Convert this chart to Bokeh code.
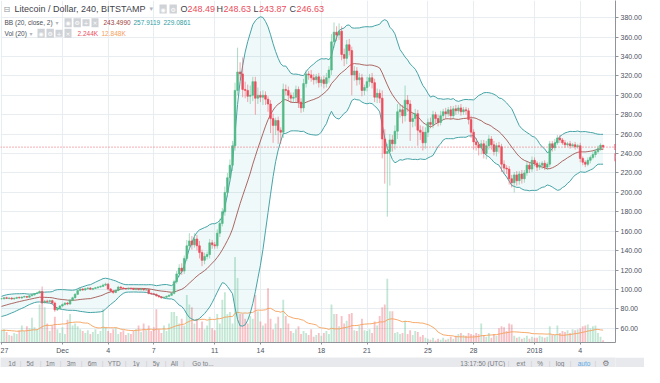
import numpy as np
import pandas as pd
from bokeh.plotting import figure
from bokeh.models import ColumnDataSource, Range1d, FixedTicker, Label, Span, NumeralTickFormatter
from bokeh.layouts import column
from bokeh.embed import file_html
from bokeh.resources import INLINE

# ---------------- data (LTC/USD, Bitstamp, 4h bars; index 0 = 27 Nov 2017 00:00) ----------------
tick_idx = [0, 24, 42, 60, 84, 102, 126, 144, 168, 186, 210, 228]
tick_labels = ["27", "Dec", "4", "7", "11", "14", "18", "21", "25", "28", "2018", "4"]
price_ticks = [60, 80, 100, 120, 140, 160, 180, 200, 220, 240, 260, 280, 300, 320, 340, 360, 380]

# closes of the 20 bars before the visible window (needed for BB(20) / Vol MA(20))
warmup_close = [74.0, 75.0, 76.5, 75.5, 77.0, 78.0, 77.5, 79.0, 80.0, 81.0,
                80.5, 82.0, 83.5, 84.0, 86.0, 87.5, 88.0, 89.0, 90.0, 90.5]
warmup_volume = [12, 15, 10, 14, 11, 13, 16, 12, 9, 14, 13, 11, 15, 12, 14, 10, 13, 16, 12, 14]

close = [
    90.5, 91.5, 90.8, 91.2, 90.2, 91.0, 91.8, 91.3, 92.2, 92.8,
    92.0, 93.5, 94.5, 95.8, 96.5, 98.0, 86.5, 88.0, 87.5, 88.5,
    86.0, 79.0, 80.5, 83.0, 84.5, 86.0, 85.0, 89.0, 91.5, 95.0,
    99.0, 100.5, 99.5, 100.8, 101.5, 100.2, 101.0, 101.8, 102.5, 103.2,
    104.5, 105.5, 100.5, 98.5, 97.0, 99.0, 102.5, 101.5, 101.0, 100.5,
    101.2, 100.8, 100.0, 100.6, 99.8, 100.4, 99.5, 99.8, 96.0, 95.5,
    95.0, 93.5, 92.5, 91.5, 92.0, 93.0, 94.0, 96.0, 108.0, 116.0,
    122.0, 119.0, 132.0, 145.0, 150.0, 146.0, 152.0, 145.0, 138.0, 130.0,
    134.0, 136.0, 148.0, 146.0, 145.0, 158.0, 168.0, 180.0, 200.0, 215.0,
    228.0, 248.0, 305.0, 324.0, 322.0, 306.0, 305.0, 299.0, 300.0, 314.0,
    297.0, 300.0, 298.0, 300.0, 296.0, 291.0, 276.0, 269.0, 274.0, 264.0,
    262.0, 306.0, 305.0, 300.0, 297.0, 298.0, 306.0, 293.0, 287.0, 312.0,
    322.0, 321.0, 318.0, 316.0, 319.0, 313.0, 316.0, 312.0, 318.0, 326.0,
    355.0, 365.0, 362.0, 366.0, 342.0, 338.0, 352.0, 346.0, 321.0, 325.0,
    316.0, 318.0, 305.0, 308.0, 314.0, 318.0, 313.0, 298.0, 302.0, 297.0,
    255.0, 240.0, 242.0, 254.0, 250.0, 263.0, 283.0, 285.0, 279.0, 295.0,
    291.0, 273.0, 276.0, 281.0, 264.0, 262.0, 251.0, 262.0, 272.0, 270.0,
    280.0, 276.0, 272.0, 279.0, 283.0, 281.0, 285.0, 279.0, 286.0, 284.0,
    287.0, 283.0, 285.0, 284.0, 275.0, 262.0, 252.0, 249.0, 246.0, 250.0,
    240.0, 248.0, 255.0, 249.0, 242.0, 248.0, 247.0, 229.0, 225.0, 224.0,
    214.0, 210.0, 218.0, 212.0, 219.0, 214.0, 220.0, 228.0, 224.0, 233.0,
    230.0, 226.0, 228.0, 230.0, 226.0, 229.0, 250.0, 246.0, 251.0, 256.0,
    254.0, 251.0, 249.0, 250.0, 248.0, 249.0, 247.0, 248.0, 235.0, 231.0,
    229.0, 233.0, 236.0, 239.0, 242.0, 245.0, 248.49, 246.63]

upper_wick = [
    0.8, 0.5, 1.0, 0.6, 0.8, 0.5, 0.7, 1.0, 0.6, 0.8,
    0.5, 0.7, 0.9, 0.6, 1.2, 1.0, 5.0, 1.2, 1.5, 1.0,
    1.0, 1.5, 1.0, 0.8, 1.0, 0.8, 1.2, 0.8, 1.0, 1.2,
    1.0, 1.2, 0.8, 1.0, 0.8, 1.0, 0.6, 0.8, 1.0, 0.8,
    1.5, 1.5, 1.2, 1.0, 0.8, 1.0, 1.2, 0.8, 1.0, 0.6,
    0.8, 0.6, 0.8, 0.5, 0.8, 0.6, 0.8, 0.6, 1.0, 0.8,
    0.8, 0.6, 0.8, 0.6, 0.8, 0.6, 0.8, 1.0, 2.0, 3.0,
    4.0, 5.0, 3.0, 6.0, 8.0, 5.0, 6.0, 4.0, 5.0, 3.0,
    4.0, 3.0, 4.0, 3.0, 3.0, 4.0, 5.0, 4.0, 6.0, 5.0,
    6.0, 5.0, 8.0, 25.0, 10.0, 17.0, 8.0, 6.0, 10.0, 5.0,
    5.0, 8.0, 4.0, 5.0, 4.0, 3.0, 4.0, 5.0, 3.0, 4.0,
    3.0, 6.0, 5.0, 4.0, 3.0, 5.0, 4.0, 3.0, 4.0, 5.0,
    4.0, 3.0, 5.0, 4.0, 3.0, 4.0, 3.0, 4.0, 5.0, 4.0,
    8.0, 10.0, 6.0, 8.0, 5.0, 6.0, 5.0, 6.0, 4.0, 5.0,
    4.0, 5.0, 4.0, 3.0, 5.0, 4.0, 5.0, 4.0, 5.0, 4.0,
    8.0, 10.0, 8.0, 6.0, 5.0, 6.0, 8.0, 6.0, 5.0, 15.0,
    5.0, 4.0, 6.0, 5.0, 4.0, 5.0, 6.0, 5.0, 4.0, 5.0,
    4.0, 3.0, 4.0, 5.0, 3.0, 4.0, 3.0, 4.0, 3.0, 4.0,
    3.0, 4.0, 3.0, 3.0, 3.0, 4.0, 3.0, 4.0, 3.0, 4.0,
    4.0, 5.0, 4.0, 3.0, 4.0, 3.0, 4.0, 3.0, 4.0, 3.0,
    3.0, 4.0, 3.0, 4.0, 3.0, 4.0, 3.0, 4.0, 3.0, 4.0,
    3.0, 2.0, 3.0, 2.0, 3.0, 2.0, 3.0, 3.0, 4.0, 3.0,
    3.0, 2.0, 3.0, 2.0, 3.0, 2.0, 3.0, 2.0, 3.0, 2.0,
    2.0, 3.0, 2.0, 3.0, 2.0, 3.0, 2.0, 0.14]

lower_wick = [
    0.6, 0.8, 0.5, 1.0, 0.7, 0.5, 0.8, 0.6, 1.0, 0.7,
    0.8, 0.6, 0.5, 0.8, 0.6, 0.7, 1.5, 1.0, 1.5, 1.0,
    1.2, 2.0, 1.0, 1.0, 0.8, 1.0, 1.2, 0.8, 1.0, 0.8,
    0.8, 1.0, 1.0, 0.8, 1.0, 0.8, 1.0, 0.6, 0.8, 0.6,
    0.8, 1.0, 1.5, 1.2, 1.5, 0.8, 0.8, 1.0, 0.6, 0.8,
    0.6, 0.8, 0.6, 0.8, 0.6, 0.8, 0.6, 0.8, 1.0, 1.0,
    0.8, 1.0, 1.0, 1.0, 0.8, 0.6, 0.8, 0.8, 1.0, 2.0,
    3.0, 4.0, 3.0, 3.0, 4.0, 5.0, 3.0, 5.0, 6.0, 6.0,
    4.0, 3.0, 4.0, 4.0, 3.0, 3.0, 4.0, 3.0, 4.0, 5.0,
    4.0, 6.0, 5.0, 5.0, 6.0, 8.0, 8.0, 6.0, 8.0, 6.0,
    17.0, 6.0, 5.0, 8.0, 6.0, 8.0, 15.0, 18.0, 10.0, 14.0,
    12.0, 6.0, 5.0, 6.0, 5.0, 4.0, 5.0, 6.0, 5.0, 4.0,
    4.0, 5.0, 4.0, 5.0, 4.0, 5.0, 4.0, 5.0, 4.0, 5.0,
    5.0, 6.0, 6.0, 5.0, 6.0, 8.0, 6.0, 5.0, 21.0, 6.0,
    6.0, 5.0, 6.0, 5.0, 4.0, 5.0, 6.0, 5.0, 6.0, 5.0,
    20.0, 31.0, 65.0, 35.0, 8.0, 6.0, 8.0, 6.0, 8.0, 6.0,
    8.0, 20.0, 6.0, 8.0, 16.0, 8.0, 8.0, 6.0, 5.0, 4.0,
    4.0, 5.0, 4.0, 3.0, 4.0, 5.0, 3.0, 4.0, 3.0, 4.0,
    3.0, 4.0, 3.0, 4.0, 5.0, 6.0, 8.0, 6.0, 8.0, 7.0,
    5.0, 6.0, 4.0, 5.0, 4.0, 5.0, 6.0, 8.0, 6.0, 5.0,
    6.0, 5.0, 10.0, 5.0, 4.0, 5.0, 4.0, 3.0, 4.0, 3.0,
    3.0, 4.0, 3.0, 4.0, 3.0, 3.0, 3.0, 4.0, 3.0, 2.0,
    3.0, 2.0, 3.0, 2.0, 3.0, 2.0, 3.0, 2.0, 4.0, 3.0,
    3.0, 2.0, 3.0, 2.0, 3.0, 2.0, 2.0, 2.76]

# volume in thousands of LTC
volume = [
    13, 14, 11, 8, 7, 10, 9, 13, 18, 12,
    17, 15, 26, 16, 14, 40, 47, 37, 20, 12,
    18, 27, 14, 10, 16, 9, 24, 30, 18, 20,
    17, 14, 12, 10, 13, 9, 11, 14, 9, 12,
    35, 16, 12, 10, 14, 15, 9, 11, 13, 8,
    10, 9, 12, 14, 18, 11, 20, 13, 18, 12,
    16, 35, 14, 10, 18, 12, 20, 32, 32, 28,
    20, 25, 18, 50, 40, 37, 20, 25, 15, 22,
    14, 18, 27, 15, 13, 30, 20, 45, 53, 30,
    32, 20, 90, 68, 30, 30, 25, 20, 28, 25,
    50, 33, 22, 18, 20, 57, 25, 14, 20, 27,
    15, 45, 28, 20, 12, 10, 14, 17, 9, 12,
    10, 8, 14, 6, 8, 10, 7, 10, 12, 9,
    40, 30, 30, 17, 28, 20, 23, 30, 31, 13,
    12, 18, 25, 13, 12, 14, 10, 22, 18, 28,
    37, 40, 67, 33, 33, 10, 11, 9, 10, 23,
    9, 13, 8, 12, 11, 6, 8, 5, 4, 3,
    5, 2, 4, 3, 5, 3, 4, 6, 4, 7,
    9, 10, 8, 7, 10, 9, 8, 10, 9, 20,
    8, 6, 10, 5, 9, 7, 15, 17, 16, 12,
    20, 19, 7, 5, 6, 4, 5, 7, 4, 6,
    5, 5, 7, 6, 5, 6, 17, 8, 8, 18,
    10, 12, 11, 13, 10, 14, 13, 14, 15, 17,
    18, 19, 15, 17, 18, 10, 6, 2.244]

last_price = 246.63

# ---------------- derived series ----------------
GREEN = "#53b987"
RED = "#eb4d5c"
FONT = "Liberation Sans"

n = len(close)
idx = np.arange(n)
cl = np.array(close)
op = np.array([warmup_close[-1]] + close[:-1])
is_up = cl >= op
hi = np.maximum(op, cl) + np.array(upper_wick)
lo = np.minimum(op, cl) - np.array(lower_wick)

full = pd.Series(warmup_close + close)
k = len(warmup_close)
bb_mid = full.rolling(20).mean().to_numpy()[k:]
bb_sd = full.rolling(20).std(ddof=0).to_numpy()[k:]
bb_up = bb_mid + 2 * bb_sd
bb_lo = bb_mid - 2 * bb_sd
vfull = pd.Series(warmup_volume + volume, dtype=float)
vma = vfull.rolling(20).mean().to_numpy()[len(warmup_volume):]

src = ColumnDataSource(dict(
    i=idx, top=np.maximum(op, cl), bot=np.minimum(op, cl), hi=hi, lo=lo,
    color=np.where(is_up, GREEN, RED), vol=np.array(volume, dtype=float),
    mid=bb_mid, up=bb_up, low=bb_lo, vma=vma))

# ---------------- main pane ----------------
X0, X1 = -0.4, 241.9
p = figure(width=644, height=356, x_range=Range1d(X0, X1), y_range=Range1d(45.4, 397.6),
           y_axis_location="right", output_backend="svg", toolbar_location=None,
           min_border_left=0, min_border_top=0, min_border_right=0, min_border_bottom=0)
p.extra_y_ranges = {"vol": Range1d(0, 360)}
p.outline_line_color = None
p.background_fill_color = "white"

p.xgrid.ticker = FixedTicker(ticks=tick_idx)
p.ygrid.ticker = FixedTicker(ticks=price_ticks)
p.grid.grid_line_color = "#e8edf2"

p.xaxis.ticker = FixedTicker(ticks=tick_idx)
p.xaxis.major_label_overrides = {t: l for t, l in zip(tick_idx, tick_labels)}
p.yaxis.ticker = FixedTicker(ticks=price_ticks)
p.yaxis.formatter = NumeralTickFormatter(format="0.00")
for ax in (p.xaxis[0], p.yaxis[0]):
    ax.major_label_text_font = FONT
    ax.major_label_text_font_size = "7px"
    ax.major_label_text_color = "#4c525e"
    ax.axis_line_color = "#8f939a"
    ax.major_tick_line_color = "#8f939a"
    ax.minor_tick_line_color = None
    ax.major_tick_in = 0
    ax.major_label_standoff = 2
p.xaxis.major_tick_out = 2
p.yaxis.major_tick_out = 3

# volume (overlay, own scale)
p.vbar(x="i", top="vol", bottom=0, width=0.72, y_range_name="vol", source=src,
       fill_color="color", fill_alpha=0.35, line_color=None)
p.line(x="i", y="vma", y_range_name="vol", source=src, line_color="#f5a05a",
       line_width=1, line_alpha=0.9)

# Bollinger bands
p.varea(x="i", y1="low", y2="up", source=src, fill_color="#2fb0b0", fill_alpha=0.07)
p.line(x="i", y="up", source=src, line_color="#46a3a6", line_width=1)
p.line(x="i", y="low", source=src, line_color="#46a3a6", line_width=1)
p.line(x="i", y="mid", source=src, line_color="#98423f", line_width=1, line_alpha=0.8)

# candles
p.segment(x0="i", y0="lo", x1="i", y1="hi", source=src, line_color="color",
          line_alpha=0.5, line_width=1)
p.vbar(x="i", top="top", bottom="bot", width=0.68, source=src,
       fill_color="color", line_color="color", line_width=0.6)

# last price line and tags on the price scale
p.add_layout(Span(location=last_price, dimension="width", line_color=RED,
                  line_dash="1 2", line_width=1, line_alpha=0.9))
p.add_layout(Label(x=X1 - 0.4, y=last_price, text=f"{last_price:.2f}", text_color="white",
                   text_font=FONT, text_font_size="6px", text_baseline="middle",
                   background_fill_color=RED, padding=1))
p.add_layout(Label(x=X1 - 0.4, y=last_price - 10.5, text="02:42:16", text_color="white",
                   text_font=FONT, text_font_size="5px", text_baseline="middle",
                   background_fill_color="#e4606c", padding=1))

# ---------------- legend header ----------------
def lab(x, y, text, size="6.5px", color="#4a4e57", bg=None, font=FONT):
    kw = dict(x=x, y=y, x_units="screen", y_units="data", text=text, text_font=font,
              text_font_size=size, text_color=color, text_baseline="middle", text_align="left")
    if bg is not None:
        kw.update(background_fill_color=bg, padding=1)
    p.add_layout(Label(**kw))

ICON = "#cfd2d6"
ROW1, ROW2, ROW3 = 388.8, 374.6, 363.9
lab(3, ROW1, "⊟", size="8px", color="#8f939a", font="DejaVu Sans")
lab(14, ROW1, "Litecoin / Dollar, 240, BITSTAMP", size="9px", color="#3f434b")
lab(149, ROW1, "▾", size="7px", color="#b3b6bb", font="DejaVu Sans")
lab(159, ROW1, "◉", size="6px", color="white", bg=ICON, font="DejaVu Sans")
lab(169, ROW1, "⚙", size="6px", color="white", bg=ICON, font="DejaVu Sans")
for xl, letter, xv, val in [(180, "O", 187, "248.49"), (216, "H", 223, "248.63"),
                             (253, "L", 258.5, "243.87"), (289, "C", 296, "246.63")]:
    lab(xl, ROW1, letter, size="9px", color="#3f434b")
    lab(xv, ROW1, val, size="9px", color=RED)

lab(4, ROW2, "BB (20, close, 2)")
lab(55, ROW2, "▾", size="6px", color="#b3b6bb", font="DejaVu Sans")
for xi, g in zip([64, 73, 82, 91], ["◉", "⚙", "+", "×"]):
    lab(xi, ROW2, g, size="6px", color="white", bg=ICON, font="DejaVu Sans")
lab(103, ROW2, "243.4990", color="#9c3f3c")
lab(133, ROW2, "257.9119", color="#2f9c9f")
lab(163, ROW2, "229.0861", color="#2f9c9f")

lab(4, ROW3, "Vol (20)")
lab(29, ROW3, "▾", size="6px", color="#b3b6bb", font="DejaVu Sans")
for xi, g in zip([37, 46, 55, 64], ["◉", "⚙", "+", "×"]):
    lab(xi, ROW3, g, size="6px", color="white", bg=ICON, font="DejaVu Sans")
lab(77, ROW3, "2.244K", color=RED)
lab(101, ROW3, "12.848K", color="#f5a05a")

# ---------------- bottom toolbar strip ----------------
BAR = "#e8e9ec"
tb = figure(width=644, height=11, x_range=Range1d(0, 644), y_range=Range1d(0, 11),
            output_backend="svg", toolbar_location=None, x_axis_location=None,
            y_axis_location=None, min_border=0, background_fill_color=BAR,
            border_fill_color=BAR, outline_line_color=None)
tb.grid.visible = False

def tlab(x, text, color="#787b83", font=FONT, size="6.5px"):
    tb.add_layout(Label(x=x, y=5.5, text=text, text_font=font, text_font_size=size,
                        text_color=color, text_align="center", text_baseline="middle"))

left_items = [(12, "1d"), (31, "5d"), (52, "1m"), (74, "3m"), (96, "6m"), (119, "YTD"),
              (142, "1y"), (163, "5y"), (182, "All"), (212, "Go to...")]
for x, t in left_items:
    tlab(x, t)
for x in [21, 42, 63, 85, 107, 131, 153, 173, 192]:
    tlab(x, "|", color="#c9cbd0")
tlab(505, "13:17:50 (UTC)")
tlab(545, "ext")
tlab(565, "%")
tlab(586, "log")
tlab(611, "auto", color="#5aa9e6")
tlab(634, "⚙", font="DejaVu Sans", size="8px")
for x in [532, 556, 575, 597, 623]:
    tlab(x, "|", color="#c9cbd0")

layout = column(p, tb, spacing=0)
open("out.html", "w").write(file_html(layout, INLINE))
